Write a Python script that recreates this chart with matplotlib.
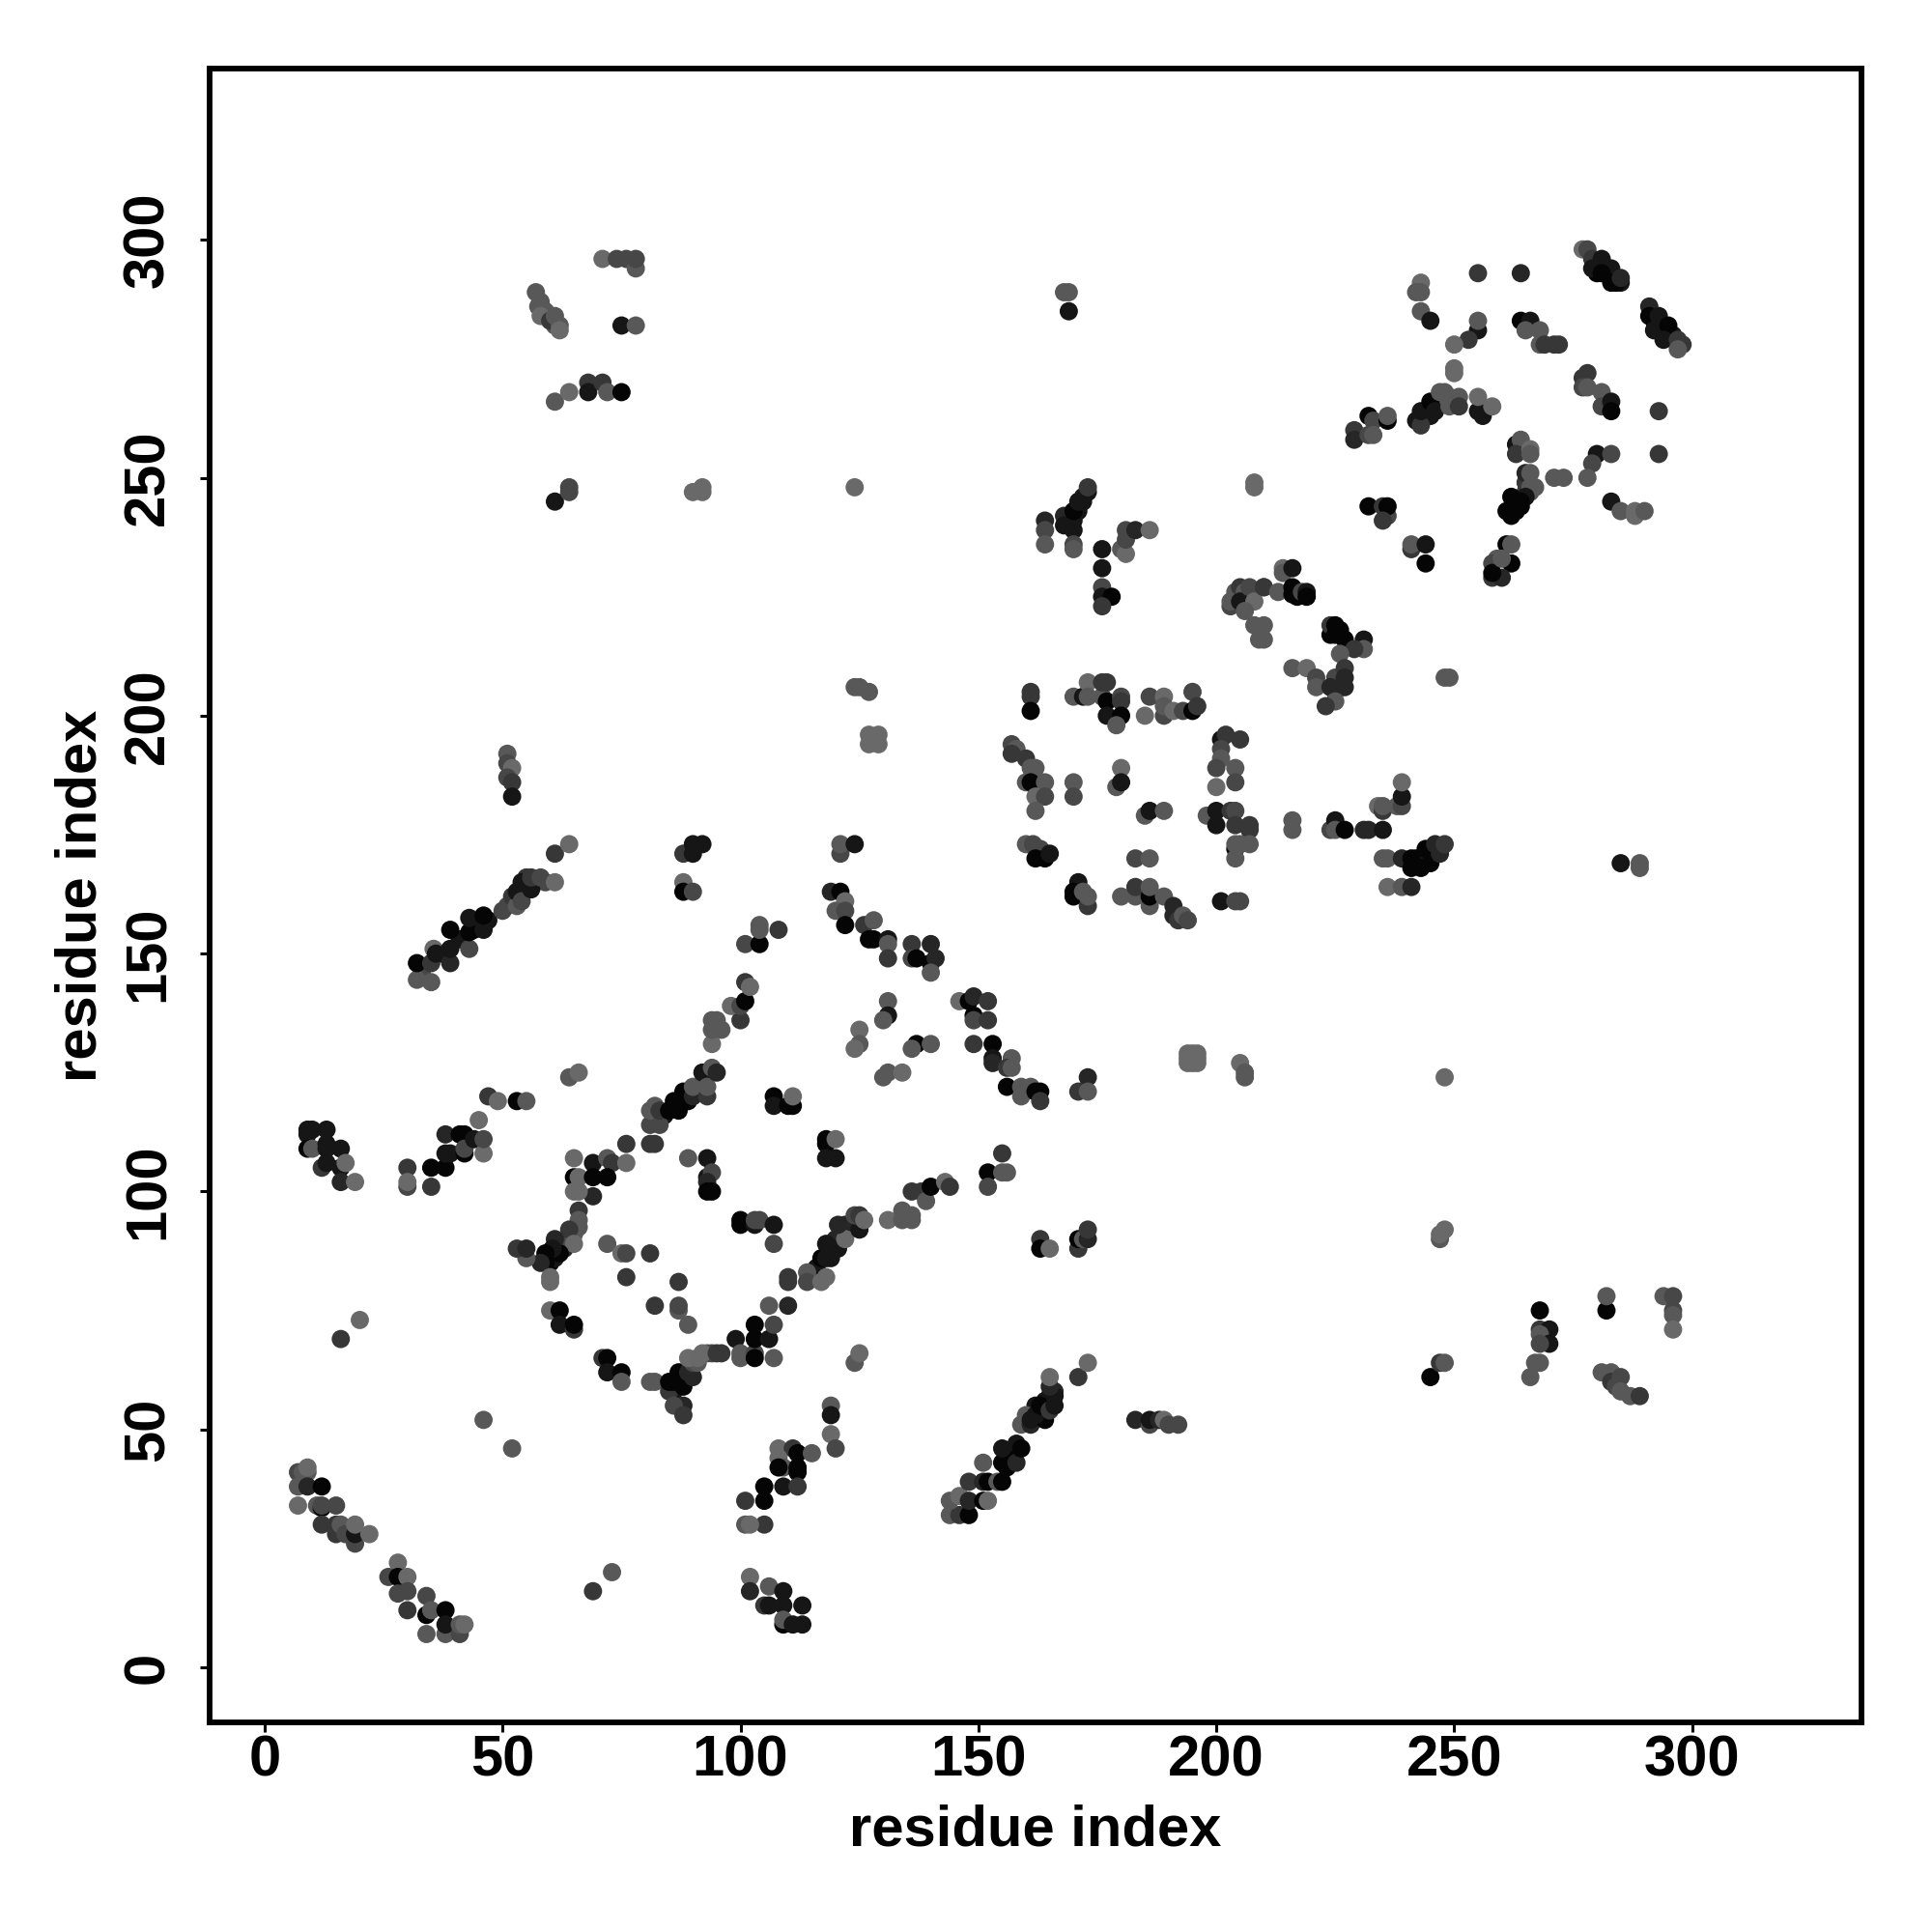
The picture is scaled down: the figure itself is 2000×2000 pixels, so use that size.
import numpy as np
import matplotlib
matplotlib.use('Agg')
import matplotlib.pyplot as plt

# contacts as (residue x, residue y, darkness level 0 = black .. 6 = palest)
dense_strands = [(58,287,5),(59,285,5),(60,284,5),(61,282,5),(33,146,4),(37,150,1),(41,153,1),(44,155,1),(47,157,1),(50,159,4),(55,164,2),(57,165,3),(55,166,3),(59,165,4),
                 (157,44,0),(156,42,0),(163,53,1),(164,56,1),(165,57,1),(166,58,2),(160,52,2),(162,55,1),(164,53,0),(91,121,1),(92,122,1),(84,116,1),
                 (116,84,1),(119,87,1),(120,90,2),(122,93,2),(86,58,1),(87,60,0),(93,66,5),(94,66,4),(60,85,0),(61,86,1),(63,88,2),(64,90,4),
                 (280,293,0),(282,294,1),(285,291,1),(292,283,0),(294,281,1),(296,280,1),(298,278,3),(263,245,1),(265,247,3),(266,247,5),(265,249,3),(264,244,0),(263,244,1),
                 (244,263,0),(245,263,1),(243,263,1),(247,266,5),(250,266,4),(171,243,1),(172,246,1),(173,247,1),(169,241,1),(170,241,1),
                 (203,223,4),(204,226,5),(205,227,3),(206,226,5),(207,225,4),(216,226,0),(217,225,0),(224,217,0),(226,218,0),(225,205,4),(242,170,0),(244,170,1),(246,172,1)]
lower_left = [(7,41,4),(8,41,5),(9,41,5),(9,42,6),(7,38,5),(9,38,2),(12,38,0),(7,34,6),(11,34,5),(12,33.5,0),(12,34,4),(15,34,4),
              (12,30,3),(15,30,3),(15,28,3),(16,30,5),(17,28,4),(19,26,4),(19,28,1),(19,30,6),(22,28,6),
              (28,22,6),(26,19,4),(28,19,0),(30,19,6),(28,15.5,4),(30,16,4),(30,12,3),(34,15,4),(34,11,0),(35,12,5),
              (34,7,5),(38,12,0),(38,7,5),(38,9,1),(41,7,4),(41,9,5),(42,9,6),(69,16,3),(73,20,5)]
block_9_113 = [(9,113,1),(10,113,1),(9,112,1),(13,113,1),(9,109,0),(10,109,5),(13,110,1),(13,109,1),(16,109,1),(12,105,3),(13,106,1),
               (16,105,1),(17,106,6),(16,102,2),(19,102,7),(30,105,3),(30,101,4),(30,102,6),(35,101,3),(35,105,0),(38,105,0),(38,112,2),
               (38,108,1),(39,108,1),(41,112,0),(42,112,0),(42,108,0),(42,109,4),(44,111,1),(45,115,7),(46,108,7),(46,111,4)]
ring_left = [(65,107,6),(69,106,1),(72,107,5),(73,106,3),(76,106,6),(76,110,3),(81,110,3),(82,110,3),(65,103,0),(66,103,6),(69,103,0),
             (72,103,0),(69,99,2),(65,100,6),(66,100,6),(66,96,3),(66,94,5),(66,92.5,5),(65,91,5),(64,92,3),(65,89,6),(62,87,0),(61,90,2),
             (60.5,88,1),(59,87,0),(59,85,0),(58,85,2),(55,86,5),(53,88,3),(55,88,2),(60,81,6),(60,82,6),
             (60,75,6),(62,75,0),(62,72,1),(65,71,3),(65,72,0),(16,69,3),(20,73,6),(47,120,3),(49,119,6),(53,119,0),(55,119,5),(64,124,5),(66,125,6)]
ring_inner = [(72,89,5),(75,87,6),(76,87,4),(81,87,3),(76,82,3),(87,81,3),(82,76,3),(87,75,5),(87,76,4),(89,72,5),(89,107,5),(93,107,1),
              (93,103,1),(94,104,4),(93,102,2),(93,100,0),(94,100,0),(100,94,0),(100,93,0),(103,93,1),(103,94,4),(104,94,4),(107,93,1),(107,89,4),
              (107,120,0),(107,118,1),(110,118,0),(111,118,0),(111,120,6),(118,110,0),(118,111,0),(120,111,6),(118,107,1),(120,107,1)]
ring_bottom = [(71,65,3),(72,65,0),(72,62,1),(75,62,0),(75,60,5),(81,60,5),(82,60,5),(85,58,3),(88,55,2),(86,55,4),(88,53,3),(85,60,0),(86,60,0),
               (88,59,0),(87,62,0),(89,62,2),(90,61,2),(90,64,4),(91,64,5),(89,65,7),(91,65,6),(92,66,6),(95,66,3),(96,66,3),
               (99,69,1),(100,66,5),(100,65,5),(103,66,4),(103,65,0),(103,69,0),(106,69,1),(107,65,5),(103,72,0),(107,72,4),(106,76,5),(110,76,2)]
ring_right = [(110,82,3),(110,81,3),(114,83,5),(114,81,4),(117,81,6),(118,82,6),(117,86,0),(118,86,1),(119,86,1),(118,89,1),(120.5,88,1),(122,90,6),
              (120.5,93,2),(125,92,1),(124,95,4),(125,95,3),(126,94,6),(131,94,6),(134,94,5),(134,96,5),(136,95,5),(136,94,5),(136,100,3),
              (138,100,3),(139,98,5),(140,101,0),(143,102,6),(144,101,3),(152,104,0),(152,101,4),(155,104,5),(156,104,5),(155,108,3),
              (163,90,3),(163,88,0),(165,88,6),(171,88,3),(171,90,0),(172,90,5),(173,90,2),(173,92,3),(124,64,5),(125,66,6)]
block_100_46 = [(108,46,6),(111,46,3),(112,45,0),(115,45,5),(108,44,6),(109,42,5),(108,42,0),(112,42,0),(112,41,0),(105,38,0),(109,38,1),(112,38,3),
                (105,35,0),(101,35,3),(105,30,3),(101,30,5),(102,30,6),(119,55,5),(119,53,1),(119,49,6),(120,46,4),(46,52,5),(52,46,5),
                (102,19,6),(102,16,2),(106,17,5),(105,13,3),(106,13,1),(109,16,1),(109,13,1),(109,9,0),(109,10,5),(111,9,1),(113,13,1),(113,9,1)]
band_144_173 = [(144,32,5),(146,32,3),(148,32,0),(144,35,5),(146,36,6),(148,35,2),(151,35,0),(152,35,6),(148,39,3),(151,39,2),(152,39,0),(154,39,5),(155,39,0),
                (151,43,5),(155,43,0),(158,43,2),(155,46,1),(158,47,1),(159,46,0),(159,51,5),(160,53,5),(161,51,2),(161,52,1),(164,52,0),(162,53,1),(163,55,0),
                (165,54,3),(166,55,1),(166,57,1),(165,59,2),(165,61,6),(171,61,3),(173,64,6),(183,52,2),(186,51,4),(186,52,1),(188,52,2),(189,52,6),(190,51,4),(192,51,4)]
band_32_61 = [(32,144.5,5),(35,144,5),(32,148,0),(35,148,3),(35.5,151,6),(36,150,1),(39,148,2),(39,151,1),(39,155,0),(43,151,4),(43,154.5,0),(43,157.5,1),(46,155,1),(46,158,0),
              (51,160,4),(52,162,3),(53,160,5),(53,163,1),(54,161,4),(54,165,1),(56,163.5,1),(56,166,3),(58,166,4),(61,165,6),(61,171,3),(64,173,6)]
ring_diag = [(81,114,4),(81,117,5),(83,114,4),(82,118,5),(83,117,3),(85,117,0),(87,117,0),(86,119,0),(89,119,0),(88,121,0),(90,120,2),(90,122,5),
             (92,125,1),(93,120,3),(93,122,5),(94,126,5),(95,125,2),(94,131,6),(94,134,5),(96,134,5),(94,136,5),(95,136,5),(100,136,3),(98,139,6),(100,139,4),
             (101,140,0),(101,144,3),(102,143,6),(101,152,4),(104,152,0),(104,155,5),(104,156,5),(108,155,3),(88,165,6),(88,163,0),(90,163,4),
             (88,171,3),(90,171,1),(90,173,1),(92,173,1),(51,192,5),(51,190,4),(52,189,6),(51,187,4),(52,186,3),(52,183,1)]
ring_top = [(119,163,2),(121,163,0),(122,161,6),(120,159,5),(122,159,4),(122,156,0),(126,156,3),(128,157,5),(127,153,0),(128,153,0),(131,153,1),(131,152,5),
            (131,149,3),(136,152,3),(140,152,2),(136,149,4),(137,149,0),(140,148,0),(141,149,2),(140,146,5),(131,140,5),(131,137,1),(130,136,5),
            (125,134,6),(125,131,5),(124,130,6),(137,131,0),(136,130,5),(140,131,5),(131,125,5),(130,124,5),(134,125,6),(121,171,4),(121,173,5),(124,173,1)]
ring_descend = [(146,140,6),(148,140,0),(149,141,2),(152,140,3),(149,137,0),(149,136,4),(152,136,3),(149,131,3),(153,131,0),(153,128,1),(153,127,2),(157,128,5),(156,126,3),(157,126,5),
                (156,122,0),(159,122,5),(161,122,5),(159,120,5),(162,121,0),(163,121,0),(163,119,3),(171,121,3),(173,124,2),(173,121,5)]
square_160_205 = [(157,194,4),(158,193,5),(157,192,3),(160,191,3),(161,189,5),(162,189,5),(160,186,5),(161,186,0),(164,186,5),(162,183,6),(164,183,4),(162,180,5),(170,186,5),(170,183,4),
                  (161,205,3),(161,204,3),(161,201,0),(170,204,5),(172,204,1),(173,207,6),(173,204,5),(176,204,5),(176,207,3),(177,207,3),(177,203,0),(180,204,4),(180,203,3),
                  (177,200,1),(180,200,0),(179,198,5),(186,204,4),(189,204,6),(185,200,6),(189,200,4),(189,202,5),(191,201,6),(193,201,4),(195,205,4),(195,201,0),(196,202,3),
                  (180,189,6),(179,185,5),(180,186,1),(185,179,5),(186,180,1),(189,180,5),(201,195,1),(202,196,3),(205,195,3),(201,193,4),(201,191,5),(200,189,4),(204,189,5),(200,185,6),(204,186,4),
                  (198,179,5),(200,180,1),(200,177,1),(203,180,3),(204,180,4),(204,177,3),(207,176,3),(207,177,3),(204,172,0),(204,173,5),(205,173,5),(207,173,5),(204,170,5)]
square_bottom = [(160,173,5),(161.5,173,4),(163,172,4),(162,170,0),(164,170,0),(165,171,1),(183,170,4),(186,170,5),(171,165,1),(170,163,0),(170,162,0),(172,163,5),(173,160,3),(173,162,5),
                 (180,162,5),(183,162,5),(183,164,3),(186,160,5),(186,162,0),(186,164,5),(189,162,5),(191,160,2),(191,158,2),(192,157,3),(193,158,5),(194,157,4),(201,161,1),(204,161,4),(205,161,4)]
strand_176_248 = [(216,178,5),(216,176,5),(224,176,4),(225,178,1),(225,176,5),(227,176,0),(231,176,2),(232,176,2),(235,176,1),(234,181,6),(235,180,3),(235,181,5),(238,181,5),(239,181,4),(239,183,1),(239,186,6),
                  (235,170,5),(236,170,5),(239,170,2),(241,170,0),(241,168,0),(243,168,0),(245,169,0),(244,172,0),(247,171,2),(246,173,2),(248,173,3),(236,164,6),(239,164,5),(241,164,2)]
scatter_mid = [(194,129,6),(195,129,6),(196,129,6),(194,128,6),(196,128,6),(194,127,6),(195,127,6),(196,127,6),(205,127,6),(206,124,5),(206,125,5),(248,124,6),
               (248,208,5),(249,208,5),(124,206,5),(125,206,5),(127,205,5),(127,196,6),(129,196,6),(127,194,6),(129,194,6),(128,195,6),
               (285,169,1),(289,168,5),(289,169,5),(247,90,5),(247,91,6),(248,92,6),(245,61,0),(247,64,3),(248,64,5),(90,247,6),(92,247,6),(92,248,6),(124,248,6),(208,248,6),(208,249,6)]
lower_right = [(268,75,0),(268,71,3),(270,71,1),(268,70,5),(270,68,1),(268,68,4),(267,64,5),(268,64,5),(266,61,5),(282,75,0),(282,78,5),(294,78,5),(296,78,4),(296,75,4),(296,74,5),(296,71,6),
               (281,62,5),(283,62,5),(283,60,3),(285,61,4),(284,59,4),(285,58,5),(287,57,5),(289,57,3)]
top_left = [(57,289,5),(57.5,286,5),(58,284,6),(60,283,3),(61,284,5),(62,282,5),(62,281,6),(61,266,5),(64,268,6),(68,270,3),(68,268,1),(71,270,3),(72,268,5),(75,268,0),
            (75,282,1),(78,282,5),(71,296,6),(74,296,4),(76,296,4),(78,294,5),(78,296,4),(61,245,1),(64,247,4),(64,248,4)]
block_160_248 = [(164,241,2),(164,239,4),(164,236,5),(168,242,2),(168,240,1),(170,243,0),(170,239,1),(170,236,4),(170,235,5),(171,245,1),(172,245,1),(173,248,3),
                 (176,235,1),(176,231,1),(176,227,4),(176,225,1),(178,225,0),(176,223,3),(180,235,5),(181,234,6),(181,237,4),(181,239,4),(183,239,2),(186,239,6),
                 (168,289,5),(169,289,5),(169,285,1)]
block_200_231 = [(203,224,5),(205,224,1),(207,227,4),(210,227,3),(208,224,6),(206,222,5),(208,219,5),(210,216,5),(209,216,5),(210,219,5),(214,231,6),(214,230,5),(216,231,1),(210,227,3),(213,226,5),
                 (216,227,0),(216,225.5,0),(218,226,4),(219,226,1),(219,225,0),(224,219,3),(225,219,0),(225,217,0),(227,216,0),(231,216,1),(231,214,5),(229,214,3),(226,213,5),
                 (216,210,5),(219,210,6),(221,208,4),(221,206,5),(225,208,4),(227,210,3),(227,208,2),(227,206,2),(224,206,2),(225,203,5),(223,202,3)]
block_229_298 = [(229,260,3),(229,258,2),(232,263,0),(232,259,4),(233,262,4),(233,259,5),(236,262,0),(236,263,5),(242,262,1),(243,261,3),(243,264,1),(245,266,0),(246,264,1),(247,268,5),(248,268,5),
                 (249,265,5),(249,267,5),(251,267,5),(251,265,3),(255,264,1),(256,263,1),(255,267,6),(258,265,6),(232,244,0),(235,244,3),(236,242,4),(236,244,0),(235,241,3),(241,235,3),(241,236,5),(244,236,1),(244,232,0),
                 (261,236,0),(262,236,5),(262,232,0),(259,233,5),(258,232,4),(258,229,3),(260,229,2),(258,230,0),(260,233,5)]
block_243_298 = [(243,291,6),(242,289,5),(243,289,5),(243,285,5),(245,283,1),(255,293,3),(264,293,2),(255,281,1),(255,283,5),(253,279,3),(250,278,6),(250,273,6),(250,272,6),
                 (264,283,0),(266,283,1),(265,281,5),(268,281,5),(268,278,5),(269,278,3),(271,278,3),(272,278,3),(277,298,6),(278,298,4),(279,296,3),(281,296,1),(279,294,1),(283,294,1),(281,293,0),(283,291,0),(284,291,0),(285,292,2),
                 (291,286,2),(291,284,0),(293,284,1),(292,281,1),(295,282,0),(294,279,1),(297,279,3),(297,277,5)]
block_261_292 = [(277,271,3),(278,272,3),(277,269,4),(278,269,5),(281,268,5),(281,265,4),(283,266,1),(283,264,0),(293,264,3),(293,255,3),(280,255,1),(283,255,4),(279,253,4),(278,250,5),(283,245,1),(285,243,5),
                 (288,242,6),(288,243,6),(290,243,5),(271,250,5),(273,250,5),(263,257,1),(264,258,5),(263,255,3),(266,256,6),(266,255,5),(265,251,2),(266,251,5),(266,248,5),(267,248,5),
                 (265,246,1),(264,245,0),(262,246,0),(261,243,0),(263,243,0),(262,242,0)]

clusters = [dense_strands, lower_left, block_9_113, ring_left, ring_inner, ring_bottom, ring_right, block_100_46, band_144_173, band_32_61, ring_diag, ring_top,
            ring_descend, square_160_205, square_bottom, strand_176_248, scatter_mid, lower_right, top_left, block_160_248, block_200_231,
            block_229_298, block_243_298, block_261_292]
ticks = [0, 50, 100, 150, 200, 250, 300]

pts = np.array([p for c in clusters for p in c], dtype=float)
grays = np.clip(0.02 + 0.065 * pts[:, 2], 0, 0.42)

plt.rcParams['font.family'] = ['Liberation Sans', 'DejaVu Sans']
plt.rcParams['font.weight'] = 'bold'

fig = plt.figure(figsize=(20, 20), dpi=100)
ax = fig.add_axes([217 / 2000, 1 - 1783 / 2000, (1927 - 217) / 2000, (1783 - 71) / 2000])
ax.scatter(pts[:, 0], pts[:, 1], s=185, c=[(g, g, g) for g in grays], linewidths=0, zorder=3)
ax.set_xlim(-11.57, 335.6)
ax.set_ylim(-11.57, 336.0)
ax.set_xticks(ticks)
ax.set_yticks(ticks)
ax.tick_params(axis='x', length=7, width=2.2, labelsize=43, pad=2)
ax.tick_params(axis='y', length=7, width=2.2, labelsize=43, pad=18.5)
for lab in ax.get_yticklabels():
    lab.set_rotation(90)
    lab.set_va('center')
for s in ax.spines.values():
    s.set_linewidth(4.2)
ax.set_xlabel('residue index', fontsize=43, fontweight='bold', labelpad=12.5)
ax.set_ylabel('residue index', fontsize=43, fontweight='bold', labelpad=11)
fig.savefig('out.png', dpi=100)
